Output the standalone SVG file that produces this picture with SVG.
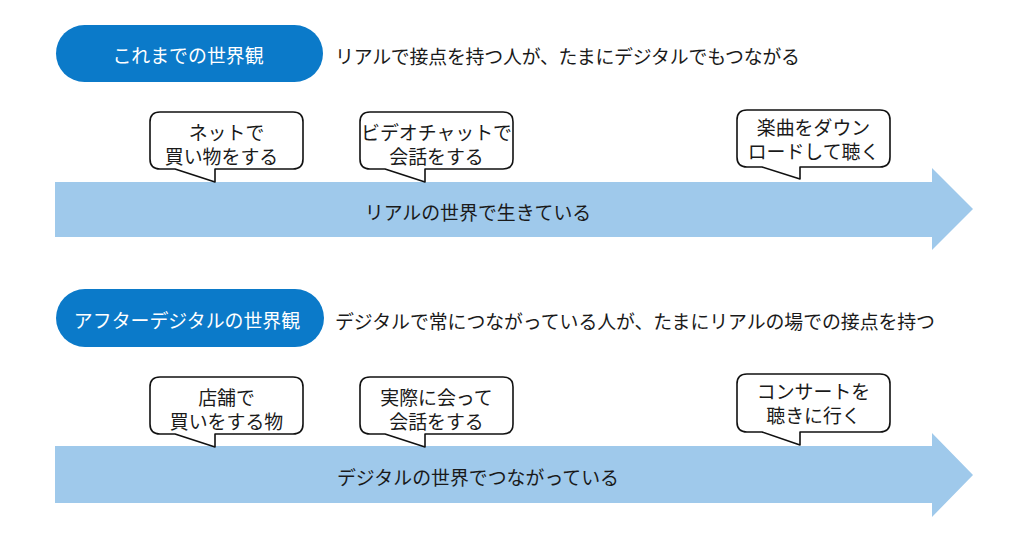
<svg xmlns="http://www.w3.org/2000/svg" width="1030" height="539" viewBox="0 0 1030 539">
  <style>
    text { font-family: "Noto Sans CJK JP", "Noto Sans", sans-serif; font-size: 18.9px; fill: #1a1a1a; dominant-baseline: central; }
    .pill { fill: #0b7ac9; }
    .pilltxt { fill: #ffffff; text-anchor: middle; }
    .arrow { fill: #9fc9eb; }
    .bubble { fill: #ffffff; stroke: #111111; stroke-width: 1.6; stroke-linejoin: round; }
    .c { text-anchor: middle; }
  </style>
  <rect width="1030" height="539" fill="#ffffff"/>

  <!-- Section 1 -->
  <g id="title1">
    <rect class="pill" x="56" y="25" width="267" height="57" rx="28.5"/>
    <text class="pilltxt" x="188" y="54">これまでの世界観</text>
  </g>
  <g id="heading1">
    <text x="335" y="55" textLength="465" lengthAdjust="spacing">リアルで接点を持つ人が、たまにデジタルでもつながる</text>
  </g>
  <g id="arrow1">
    <polygon class="arrow" points="55,182 932,182 932,168 973,209 932,250 932,237 55,237"/>
    <text class="c" x="478" y="211">リアルの世界で生きている</text>
  </g>
  <g id="bubble1a">
    <path class="bubble" d="M160,112 H293 Q303,112 303,122 V159 Q303,169 293,169 H215 V182 L175,169 H160 Q150,169 150,159 V122 Q150,112 160,112 Z"/>
    <text class="c" x="226.5" y="131">ネットで</text>
    <text class="c" x="221.5" y="155">買い物をする</text>
  </g>
  <g id="bubble1b">
    <path class="bubble" d="M370,112 H503 Q513,112 513,122 V159 Q513,169 503,169 H425 V182 L385,169 H370 Q360,169 360,159 V122 Q360,112 370,112 Z"/>
    <text class="c" x="436.5" y="131">ビデオチャットで</text>
    <text class="c" x="436.5" y="155">会話をする</text>
  </g>
  <g id="bubble1c">
    <path class="bubble" d="M747,110 H880 Q890,110 890,120 V157 Q890,167 880,167 H800 V179 L762,167 H747 Q737,167 737,157 V120 Q737,110 747,110 Z"/>
    <text class="c" x="813.5" y="126">楽曲をダウン</text>
    <text class="c" x="813.5" y="150">ロードして聴く</text>
  </g>

  <!-- Section 2 -->
  <g id="title2">
    <rect class="pill" x="56" y="289" width="268" height="58" rx="29"/>
    <text class="pilltxt" x="187" y="319">アフターデジタルの世界観</text>
  </g>
  <g id="heading2">
    <text x="335" y="320" textLength="600" lengthAdjust="spacing">デジタルで常につながっている人が、たまにリアルの場での接点を持つ</text>
  </g>
  <g id="arrow2">
    <polygon class="arrow" points="55,446 932,446 932,433 973,475 932,517 932,503 55,503"/>
    <text class="c" x="478" y="476">デジタルの世界でつながっている</text>
  </g>
  <g id="bubble2a">
    <path class="bubble" d="M160,377 H293 Q303,377 303,387 V424 Q303,434 293,434 H215 V447 L175,434 H160 Q150,434 150,424 V387 Q150,377 160,377 Z"/>
    <text class="c" x="226.5" y="396">店舗で</text>
    <text class="c" x="226.5" y="420">買いをする物</text>
  </g>
  <g id="bubble2b">
    <path class="bubble" d="M370,377 H503 Q513,377 513,387 V424 Q513,434 503,434 H425 V447 L385,434 H370 Q360,434 360,424 V387 Q360,377 370,377 Z"/>
    <text class="c" x="436.5" y="396">実際に会って</text>
    <text class="c" x="436.5" y="420">会話をする</text>
  </g>
  <g id="bubble2c">
    <path class="bubble" d="M747,374 H880 Q890,374 890,384 V422 Q890,432 880,432 H800 V445 L762,432 H747 Q737,432 737,422 V384 Q737,374 747,374 Z"/>
    <text class="c" x="813.5" y="390">コンサートを</text>
    <text class="c" x="813.5" y="414">聴きに行く</text>
  </g>

  <g id="connectors"></g>
</svg>
